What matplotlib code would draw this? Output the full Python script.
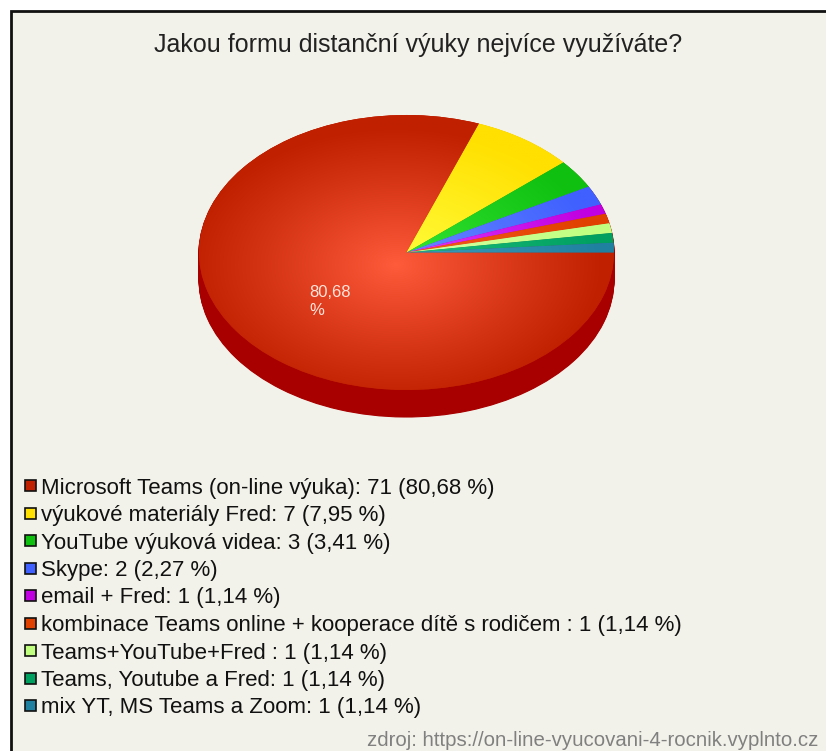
import numpy as np
import matplotlib.pyplot as plt
from matplotlib.patches import Rectangle
from matplotlib.colors import to_rgb

plt.rcParams['font.family'] = ['Liberation Sans', 'DejaVu Sans']

TITLE = 'Jakou formu distanční výuky nejvíce využíváte?'
SOURCE = 'zdroj: https://on-line-vyucovani-4-rocnik.vyplnto.cz'

answers = [
    'Microsoft Teams (on-line výuka)',
    'výukové materiály Fred',
    'YouTube výuková videa',
    'Skype',
    'email + Fred',
    'kombinace Teams online + kooperace dítě s rodičem ',
    'Teams+YouTube+Fred ',
    'Teams, Youtube a Fred',
    'mix YT, MS Teams a Zoom',
]
counts = [71, 7, 3, 2, 1, 1, 1, 1, 1]

# slice colours (edge of the top face) and the lighter tone towards the centre
edge_colors = ['#C02000', '#FFE000', '#10C010', '#4060FF', '#C000E0',
               '#E04000', '#C0FF80', '#00A060', '#2080A0']
light_colors = ['#FF5C3C', '#FFFF40', '#38E838', '#6A8CFF', '#E040FF',
                '#F86020', '#D8FFA8', '#20C080', '#40A0C0']
side_color = '#A80000'

W, H = 826, 751
fig = plt.figure(figsize=(W / 100, H / 100), dpi=100, facecolor='white')

# beige panel with black frame on top/left (chart is cropped on the other sides)
fig.patches.append(Rectangle((10.5 / W, -0.05), 1.0, 1.05 - 10.5 / H,
                             transform=fig.transFigure, facecolor='#F3F2EA',
                             edgecolor='#111111', linewidth=2, zorder=-5))

fig.text(418 / W, 1 - 45 / H, TITLE, ha='center', va='center',
         fontsize=18, color='#222222')

# pie axes: x maps to [-1, 1], y includes room for the 3d depth
depth = 27 / 137.5
ax = fig.add_axes([199 / W, (H - 417) / H, 415 / W, 302 / H])
ax.patch.set_visible(False)

n_layers = 30
for k in range(n_layers, 0, -1):
    ax.pie(counts, colors=[side_color] * len(counts), startangle=0,
           counterclock=False, center=(0, -depth * k / n_layers),
           wedgeprops=dict(linewidth=0.8, edgecolor=side_color))

wedges, _ = ax.pie(counts, colors=edge_colors, startangle=0, counterclock=False,
                   wedgeprops=dict(linewidth=0))

# radial shading on every slice
yy, xx = np.mgrid[1:-1:400j, -1:1:400j]
t = np.clip(np.hypot(xx + 0.05, yy + 0.09) / 1.0, 0, 1) ** 0.9
for w, c0, c1 in zip(wedges, light_colors, edge_colors):
    a = np.array(to_rgb(c0))
    b = np.array(to_rgb(c1))
    img = a[None, None, :] * (1 - t[..., None]) + b[None, None, :] * t[..., None]
    im = ax.imshow(img, extent=(-1, 1, -1, 1), interpolation='bilinear',
                   aspect='auto', zorder=w.get_zorder() + 0.1)
    im.set_clip_path(w)

# percentage label inside the largest slice
total = sum(counts)
share = counts[0] / total
mid = np.deg2rad(-share * 360 / 2)
ax.text(0.45 * np.cos(mid), 0.45 * np.sin(mid) - 0.1,
        '{:.2f}\n%'.format(share * 100).replace('.', ','),
        ha='center', va='center', multialignment='left',
        fontsize=12, color='#FFE4DC', zorder=10)

ax.set_aspect('auto')
ax.set_xlim(-1, 1)
ax.set_ylim(-1 - depth, 1)
ax.axis('off')

# legend
row_y0, row_step = 486, 27.5
for i, (name, n) in enumerate(zip(answers, counts)):
    y = row_y0 + i * row_step
    fig.patches.append(Rectangle((25 / W, 1 - (y + 5) / H), 11 / W, 11 / H,
                                 transform=fig.transFigure,
                                 facecolor=edge_colors[i], edgecolor='#111111',
                                 linewidth=1.2, zorder=3))
    label = '{}: {} ({:.2f} %)'.format(name, n, n / total * 100).replace('.', ',')
    fig.text(41 / W, 1 - (y + 2) / H, label, ha='left', va='center',
             fontsize=16, color='#111111')

fig.text(818 / W, 1 - 740 / H, SOURCE, ha='right', va='center',
         fontsize=14.7, color='#808080')

fig.savefig('out.png', dpi=100, facecolor=fig.get_facecolor())
